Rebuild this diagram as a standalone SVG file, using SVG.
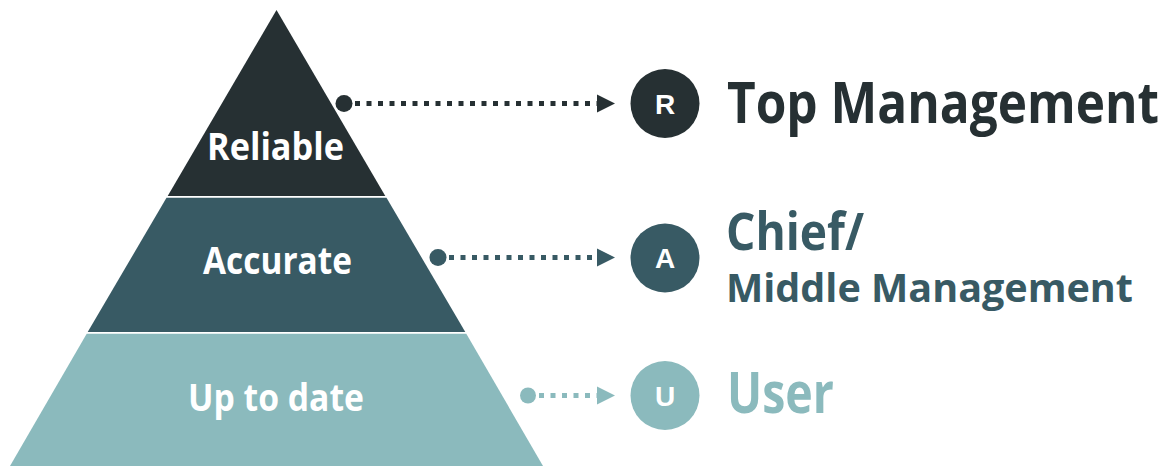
<svg xmlns="http://www.w3.org/2000/svg" width="1175" height="466" viewBox="0 0 1175 466">
  <style>
    .lbl { font-family: "Open Sans", "Noto Sans", "Liberation Sans", sans-serif; font-weight: 700; }
    .in { fill: #ffffff; font-size: 38px; }
    .badge { font-family: "Liberation Sans", Arial, sans-serif; font-weight: 700; font-size: 28px; fill: #ffffff; text-anchor: middle; }
    .c1 { fill: #263033; }
    .c2 { fill: #385a64; }
    .c3 { fill: #8bbabd; }
    .d1 { stroke: #263033; }
    .d2 { stroke: #385a64; }
    .d3 { stroke: #8bbabd; }
    .dash { fill: none; stroke-width: 5; stroke-dasharray: 5 6.5; }
  </style>
  <rect width="1175" height="466" fill="#ffffff"/>

  <g id="layer-reliable">
    <polygon class="c1" points="276.5,10 385.3,196 167.7,196"/>
    <text class="lbl in" x="207" y="160" textLength="137" lengthAdjust="spacingAndGlyphs">Reliable</text>
  </g>
  <g id="layer-accurate">
    <polygon class="c2" points="166.5,197.8 386.5,197.8 465.3,332 87.7,332"/>
    <text class="lbl in" x="203" y="274" textLength="149" lengthAdjust="spacingAndGlyphs">Accurate</text>
  </g>
  <g id="layer-uptodate">
    <polygon class="c3" points="86.7,333.8 466.3,333.8 543,466 10,466"/>
    <text class="lbl in" x="188" y="411" textLength="176" lengthAdjust="spacingAndGlyphs">Up to date</text>
  </g>

  <g id="connectors">
    <circle class="c1" cx="344" cy="103.5" r="8.5"/>
    <line class="dash d1" x1="355" y1="103.5" x2="597" y2="103.5"/>
    <polygon class="c1" points="597,94.5 615,103.5 597,112.5"/>

    <circle class="c2" cx="438" cy="257.5" r="8.5"/>
    <line class="dash d2" x1="449" y1="257.5" x2="597" y2="257.5"/>
    <polygon class="c2" points="597,248.5 615,257.5 597,266.5"/>

    <circle class="c3" cx="528" cy="395.5" r="8"/>
    <line class="dash d3" x1="539" y1="395.5" x2="597" y2="395.5"/>
    <polygon class="c3" points="597,386.5 615,395.5 597,404.5"/>
  </g>

  <g id="role-top">
    <circle class="c1" cx="665" cy="103.5" r="34.5"/>
    <text class="badge" x="665" y="113.5">R</text>
    <text class="lbl c1" x="727" y="122.5" font-size="58" textLength="432" lengthAdjust="spacingAndGlyphs">Top Management</text>
  </g>
  <g id="role-middle">
    <circle class="c2" cx="665" cy="258" r="34.5"/>
    <text class="badge" x="665" y="268">A</text>
    <text class="lbl c2" x="726" y="250" font-size="52" textLength="138" lengthAdjust="spacingAndGlyphs">Chief/</text>
    <text class="lbl c2" x="726" y="302" font-size="40" textLength="407" lengthAdjust="spacingAndGlyphs">Middle Management</text>
  </g>
  <g id="role-user">
    <circle class="c3" cx="665" cy="395.5" r="34.5"/>
    <text class="badge" x="665" y="405.5">U</text>
    <text class="lbl c3" x="727" y="413" font-size="57" textLength="107" lengthAdjust="spacingAndGlyphs">User</text>
  </g>
</svg>
